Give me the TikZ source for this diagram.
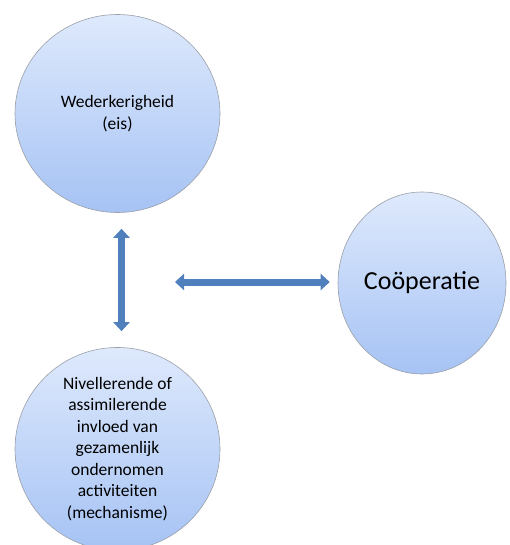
\documentclass[tikz,border=0pt]{standalone}
\usepackage{fontspec}
\setmainfont{Carlito}
\usetikzlibrary{shapes.geometric,arrows.meta}
\definecolor{bubtop}{HTML}{DEE9FC}
\definecolor{bubbot}{HTML}{A6C3F4}
\definecolor{bubedge}{HTML}{9A9FA8}
\definecolor{arrowblue}{HTML}{4F7FBC}
\tikzset{
  bubble/.style={ellipse, draw=bubedge, line width=0.6pt,
    top color=bubtop, bottom color=bubbot, inner sep=0pt,
    align=center, text=black},
  smalltext/.style={font=\fontsize{17.5}{21.5}\selectfont},
  bigtext/.style={font=\fontsize{26}{30}\selectfont},
  dblarrow/.style={draw=arrowblue, line width=7pt,
    {Triangle[width=16pt,length=9pt]}-{Triangle[width=16pt,length=9pt]}}
}
\begin{document}
\begin{tikzpicture}[x=1pt,y=-1pt]
  \useasboundingbox (0,0) rectangle (509,545);
  % the three bubbles
  \node[bubble, smalltext, minimum width=205pt, minimum height=198pt]
    (eis) at (117.5,113.5) {Wederkerigheid\\(eis)};
  \node[bubble, smalltext, minimum width=205pt, minimum height=196pt]
    (mech) at (117.5,449) {Nivellerende of\\assimilerende\\invloed van\\gezamenlijk\\ondernomen\\activiteiten\\(mechanisme)};
  \node[bubble, bigtext, minimum width=168pt, minimum height=182pt]
    (coop) at (422,283) {Coöperatie};
  % free left end of the horizontal arrow
  \coordinate (hleft) at (175,282);
  % connectors
  \draw[dblarrow, shorten <=16pt, shorten >=16pt]
    ([xshift=4pt]eis.south) -- ([xshift=4pt]mech.north);
  \draw[dblarrow, shorten >=8pt] (hleft) -- (hleft -| coop.west);
\end{tikzpicture}
\end{document}
